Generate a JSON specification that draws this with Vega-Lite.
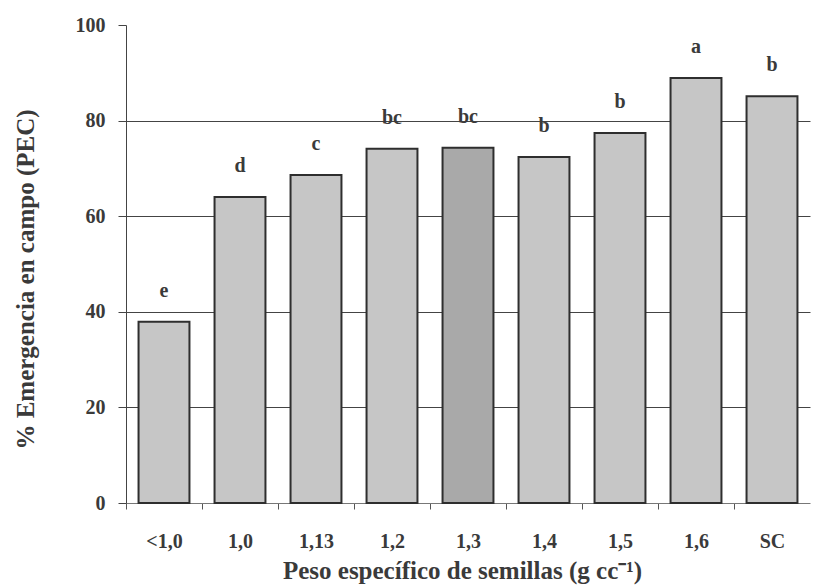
{
  "$schema": "https://vega.github.io/schema/vega-lite/v6.json",
  "autosize": "none",
  "width": 684,
  "height": 478,
  "padding": {"left": 126, "top": 25, "right": 4, "bottom": 84},
  "background": "white",
  "config": {
    "view": {"stroke": null},
    "font": "Liberation Serif",
    "axis": {"labelFont": "Liberation Serif", "titleFont": "Liberation Serif", "labelFontWeight": "bold", "titleFontWeight": "bold", "labelColor": "#3a3a3a", "titleColor": "#3a3a3a"}
  },
  "data": {
    "values": [
      {"peso": "<1,0", "pec": 37.9, "letra": "e", "patron": "trama"},
      {"peso": "1,0", "pec": 64.0, "letra": "d", "patron": "trama"},
      {"peso": "1,13", "pec": 68.6, "letra": "c", "patron": "trama"},
      {"peso": "1,2", "pec": 74.1, "letra": "bc", "patron": "trama"},
      {"peso": "1,3", "pec": 74.3, "letra": "bc", "patron": "punteado"},
      {"peso": "1,4", "pec": 72.4, "letra": "b", "patron": "trama"},
      {"peso": "1,5", "pec": 77.4, "letra": "b", "patron": "trama"},
      {"peso": "1,6", "pec": 88.9, "letra": "a", "patron": "trama"},
      {"peso": "SC", "pec": 85.1, "letra": "b", "patron": "trama"}
    ]
  },
  "encoding": {
    "x": {
      "field": "peso",
      "type": "nominal",
      "sort": null,
      "scale": {"paddingInner": 0.33, "paddingOuter": 0.165},
      "axis": {
        "title": "Peso específico de semillas (g cc⁻¹)",
        "titleFontSize": 25,
        "titleY": 67,
        "titleX": 336,
        "titleBaseline": "middle",
        "labelAngle": 0,
        "labelFontSize": 20,
        "labelPadding": 22,
        "tickSize": 6,
        "tickOffset": -38,
        "labelOffset": 38,
        "tickColor": "#555",
        "domainColor": "#777",
        "grid": false
      }
    },
    "y": {
      "field": "pec",
      "type": "quantitative",
      "scale": {"domain": [0, 100], "nice": false},
      "axis": {
        "title": "% Emergencia en campo (PEC)",
        "titleFontSize": 25,
        "titleAngle": 270,
        "titleX": -101,
        "titleY": 254,
        "titleAlign": "center",
        "titleBaseline": "middle",
        "values": [0, 20, 40, 60, 80, 100],
        "labelFontSize": 20,
        "labelPadding": 13,
        "tickSize": 8,
        "tickColor": "#444",
        "domainColor": "#444",
        "grid": true,
        "gridColor": "#444",
        "gridWidth": 1,
        "gridOpacity": {"condition": {"test": "datum.value === 100 || datum.value === 0", "value": 0}, "value": 1}
      }
    }
  },
  "layer": [
    {
      "mark": {"type": "bar", "stroke": "#2e2e2e", "strokeWidth": 2},
      "encoding": {
        "color": {
          "field": "patron",
          "type": "nominal",
          "scale": {"domain": ["trama", "punteado"], "range": ["#c6c6c6", "#a9a9a9"]},
          "legend": null
        }
      }
    },
    {
      "mark": {"type": "text", "dy": -25, "baseline": "alphabetic", "font": "Liberation Serif", "fontWeight": "bold", "fontSize": 20, "color": "#3a3a3a"},
      "encoding": {"text": {"field": "letra"}}
    }
  ]
}
